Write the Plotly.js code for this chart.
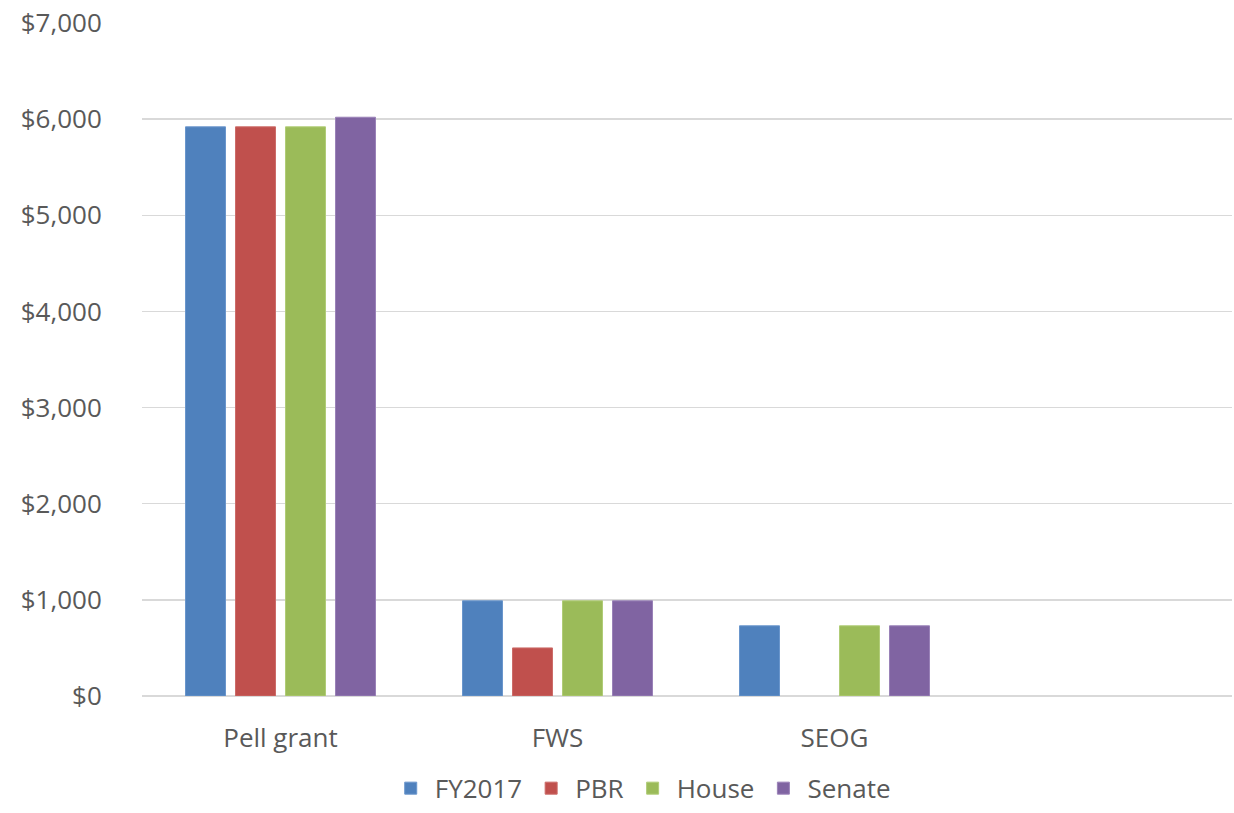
<!DOCTYPE html>
<html>
<head>
<meta charset="utf-8">
<script src="https://cdn.plot.ly/plotly-3.0.1.min.js"></script>
<style>html,body{margin:0;padding:0;background:#fff;}#chart{width:1234px;height:813px;}</style>
</head>
<body>
<div id="chart"></div>
<script>
const categories = ["Pell grant", "FWS", "SEOG"];
const seriesNames = ["FY2017", "PBR", "House", "Senate"];
const fy2017 = [5920, 990, 730];
const pbr = [5920, 500, null];
const house = [5920, 990, 730];
const senate = [6020, 990, 730];
const yTicks = [0, 1000, 2000, 3000, 4000, 5000, 6000, 7000];
const yTickLabels = ["$0", "$1,000", "$2,000", "$3,000", "$4,000", "$5,000", "$6,000", "$7,000"];

const colors = ["#4F81BD", "#C0504D", "#9BBB59", "#8064A2"];
const lineColors = ["#6A96CC", "#CC6C69", "#B0CC77", "#9A82B8"];
const values = [fy2017, pbr, house, senate];

const traces = values.map((v, i) => ({
  type: "bar",
  name: seriesNames[i],
  x: categories,
  y: v,
  marker: {color: colors[i], line: {color: lineColors[i], width: 1}},
  hoverinfo: "none"
}));

const font = {family: "'Open Sans', Lato, sans-serif", color: "#595959", size: 26};

const layout = {
  width: 1234, height: 813,
  margin: {l: 142, r: 2, t: 23, b: 117, autoexpand: false},
  paper_bgcolor: "#fff", plot_bgcolor: "#fff",
  font: font,
  barmode: "group",
  bargap: 0.278,
  bargroupgap: 0.2,
  showlegend: true,
  legend: {orientation: "h", x: 0.458, xanchor: "center",
           y: -0.172, yanchor: "bottom",
           font: font, traceorder: "normal", itemwidth: 38},
  xaxis: {
    type: "category",
    range: [-0.5, 3.435],
    showgrid: false, zeroline: false, showline: false,
    ticks: "outside", ticklen: 19, tickcolor: "rgba(0,0,0,0)",
    tickfont: font, automargin: false
  },
  yaxis: {
    range: [0, 7000],
    tickvals: yTicks,
    ticktext: yTickLabels,
    showgrid: true, gridcolor: "#D9D9D9", gridwidth: 1.5,
    zeroline: true, zerolinecolor: "#D9D9D9", zerolinewidth: 1.5,
    showline: false,
    ticks: "outside", ticklen: 34, tickcolor: "rgba(0,0,0,0)",
    tickfont: font, automargin: false
  }
};

Plotly.newPlot("chart", traces, layout, {displayModeBar: false, staticPlot: true});
</script>
</body>
</html>
